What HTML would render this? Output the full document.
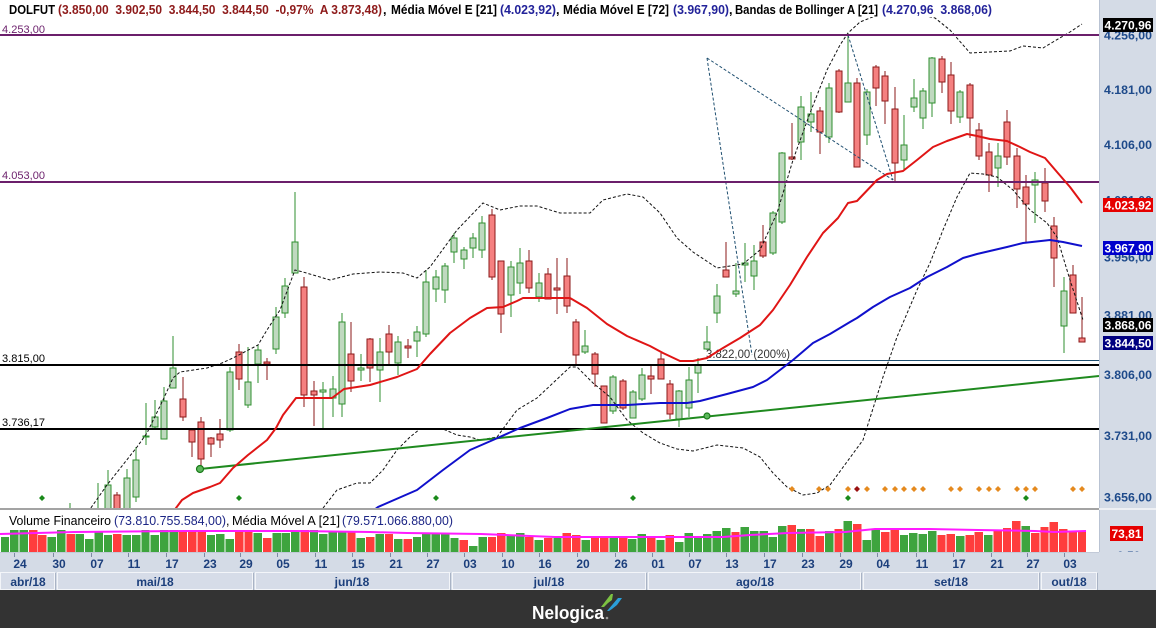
<!DOCTYPE html>
<html><head><meta charset="utf-8"><style>
html,body{margin:0;padding:0;background:#fff;}
svg{display:block;}
text{font-family:"Liberation Sans",Arial,sans-serif;white-space:pre;}
.ax{font-weight:bold;font-size:12px;fill:#1e4a8a;}
.dt{font-weight:bold;font-size:12px;fill:#1c3f7c;}
.hd{font-weight:bold;font-size:12.5px;}
.tg{font-weight:bold;font-size:12px;fill:#fff;}
</style></head><body>
<svg width="1156" height="628" viewBox="0 0 1156 628" xmlns="http://www.w3.org/2000/svg">
<defs>
<clipPath id="mc"><rect x="0" y="17" width="1099" height="491"/></clipPath>
<clipPath id="vc"><rect x="0" y="510" width="1099" height="42"/></clipPath>
<clipPath id="rc"><rect x="1099" y="510" width="57" height="42"/></clipPath>
</defs>
<rect x="0" y="0" width="1156" height="628" fill="#fff"/>
<!-- right axis panel -->
<rect x="1099" y="0" width="57" height="590" fill="#d4dbe6"/>
<line x1="1099.5" y1="0" x2="1099.5" y2="552" stroke="#b9c3d3" stroke-width="1"/>

<g clip-path="url(#mc)">
<!-- candles -->
<g shape-rendering="crispEdges">
<path fill="none" stroke="#2f8f2f" stroke-width="1" d="M70 503V512M98 483V512M108 470V512M127 469V512M136 447V502M146 403V445M155 400V428M164 387V439M173 336V388M230 367V432M248 347V408M258 345V383M276 307V354M285 278V318M295 192V273M323 382V428M333 376V417M342 313V417M361 354V381M380 338V402M398 336V375M417 326V357M426 270V337M436 270V302M445 263V303M454 233V263M464 247V269M473 233V258M482 216V258M511 261V317M520 248V294M539 273V302M585 330V354M613 375V414M633 390V418M642 368V401M679 390V427M689 367V417M698 358V393M707 326V350M717 284V323M736 263V297M745 243V282M754 245V290M773 211V255M782 152V224M801 96V160M811 92V132M829 83V143M848 33V102M867 89V145M904 115V170M914 79V112M923 88V129M932 57V117M960 90V123M998 143V187M1035 172V223M1064 277V353"/>
<g fill="#bfd9bf" stroke="#2f8f2f" stroke-width="1">
<rect x="105" y="485" width="6" height="30"/><rect x="124" y="478" width="6" height="37"/><rect x="133" y="460" width="6" height="37"/><rect x="143" y="436" width="6" height="1"/><rect x="152" y="417" width="6" height="10"/><rect x="161" y="401" width="6" height="38"/><rect x="170" y="368" width="6" height="20"/><rect x="227" y="372" width="6" height="58"/><rect x="245" y="382" width="6" height="23"/><rect x="255" y="350" width="6" height="14"/><rect x="273" y="317" width="6" height="32"/><rect x="282" y="286" width="6" height="27"/><rect x="292" y="242" width="6" height="31"/><rect x="320" y="390" width="6" height="2"/><rect x="330" y="389" width="6" height="9"/><rect x="339" y="322" width="6" height="82"/><rect x="358" y="368" width="6" height="2"/><rect x="377" y="352" width="6" height="18"/><rect x="395" y="342" width="6" height="21"/><rect x="414" y="332" width="6" height="9"/><rect x="423" y="282" width="6" height="52"/><rect x="433" y="277" width="6" height="12"/><rect x="442" y="266" width="6" height="24"/><rect x="451" y="238" width="6" height="14"/><rect x="461" y="250" width="6" height="9"/><rect x="470" y="238" width="6" height="10"/><rect x="479" y="223" width="6" height="27"/><rect x="508" y="267" width="6" height="28"/><rect x="517" y="263" width="6" height="20"/><rect x="536" y="283" width="6" height="14"/><rect x="582" y="346" width="6" height="6"/><rect x="610" y="377" width="6" height="34"/><rect x="630" y="392" width="6" height="26"/><rect x="639" y="375" width="6" height="24"/><rect x="676" y="391" width="6" height="28"/><rect x="686" y="380" width="6" height="28"/><rect x="695" y="365" width="6" height="8"/><rect x="704" y="342" width="6" height="7"/><rect x="714" y="296" width="6" height="17"/><rect x="733" y="291" width="6" height="3"/><rect x="742" y="263" width="6" height="2"/><rect x="751" y="261" width="6" height="15"/><rect x="770" y="213" width="6" height="40"/><rect x="779" y="153" width="6" height="69"/><rect x="798" y="107" width="6" height="35"/><rect x="808" y="114" width="6" height="8"/><rect x="826" y="88" width="6" height="49"/><rect x="845" y="83" width="6" height="19"/><rect x="864" y="92" width="6" height="43"/><rect x="901" y="145" width="6" height="15"/><rect x="911" y="98" width="6" height="9"/><rect x="920" y="91" width="6" height="27"/><rect x="929" y="58" width="6" height="45"/><rect x="957" y="92" width="6" height="25"/><rect x="995" y="156" width="6" height="12"/><rect x="1032" y="180" width="6" height="5"/><rect x="1061" y="291" width="6" height="35"/>
</g>
<path fill="none" stroke="#8b1a1a" stroke-width="1" d="M117 492V512M183 377V421M192 430V457M201 417V469M211 437V457M220 419V448M239 344V390M267 358V380M304 277V407M314 381V426M351 322V392M370 338V382M389 325V364M408 339V358M492 209V280M501 261V333M529 250V293M548 268V299M557 258V314M567 258V313M576 319V364M595 352V387M604 386V423M623 379V410M651 365V394M661 353V379M670 380V419M726 242V277M763 225V258M792 123V160M820 107V154M839 69V113M857 78V167M876 65V106M885 71V124M895 87V181M942 56V93M951 62V124M970 83V138M979 123V160M989 143V192M1007 110V165M1017 148V208M1026 175V242M1045 168V212M1054 217V287M1073 265V313M1082 297V342"/>
<g fill="#f58080" stroke="#8b1a1a" stroke-width="1">
<rect x="114" y="495" width="6" height="20"/><rect x="180" y="399" width="6" height="18"/><rect x="189" y="430" width="6" height="12"/><rect x="198" y="422" width="6" height="37"/><rect x="208" y="438" width="6" height="6"/><rect x="217" y="434" width="6" height="6"/><rect x="236" y="352" width="6" height="27"/><rect x="264" y="362" width="6" height="2"/><rect x="301" y="287" width="6" height="108"/><rect x="311" y="391" width="6" height="4"/><rect x="348" y="354" width="6" height="27"/><rect x="367" y="339" width="6" height="29"/><rect x="386" y="334" width="6" height="18"/><rect x="405" y="346" width="6" height="2"/><rect x="489" y="215" width="6" height="62"/><rect x="498" y="261" width="6" height="53"/><rect x="526" y="261" width="6" height="27"/><rect x="545" y="274" width="6" height="25"/><rect x="554" y="288" width="6" height="2"/><rect x="564" y="276" width="6" height="30"/><rect x="573" y="322" width="6" height="33"/><rect x="592" y="354" width="6" height="20"/><rect x="601" y="386" width="6" height="37"/><rect x="620" y="381" width="6" height="27"/><rect x="648" y="376" width="6" height="3"/><rect x="658" y="359" width="6" height="20"/><rect x="667" y="384" width="6" height="30"/><rect x="723" y="270" width="6" height="7"/><rect x="760" y="242" width="6" height="14"/><rect x="789" y="157" width="6" height="2"/><rect x="817" y="111" width="6" height="21"/><rect x="836" y="71" width="6" height="41"/><rect x="854" y="83" width="6" height="84"/><rect x="873" y="67" width="6" height="21"/><rect x="882" y="76" width="6" height="25"/><rect x="892" y="109" width="6" height="54"/><rect x="939" y="59" width="6" height="23"/><rect x="948" y="75" width="6" height="36"/><rect x="967" y="85" width="6" height="33"/><rect x="976" y="130" width="6" height="26"/><rect x="986" y="152" width="6" height="23"/><rect x="1004" y="122" width="6" height="35"/><rect x="1014" y="156" width="6" height="33"/><rect x="1023" y="187" width="6" height="17"/><rect x="1042" y="183" width="6" height="18"/><rect x="1051" y="226" width="6" height="32"/><rect x="1070" y="275" width="6" height="38"/><rect x="1079" y="338" width="6" height="4"/>
</g>
</g>

<!-- Bollinger bands -->
<g fill="none" stroke="#111" stroke-width="1" stroke-dasharray="3,2">
<polyline points="88,512 107,485 137,447 147,433 163,400 173,378 180,372 207,368 222,363 233,358 258,345 267,330 280,310 295,270 303,272 330,280 353,274 380,272 403,273 417,278 430,267 457,230 483,203 500,210 520,206 537,206 560,213 590,213 603,200 627,194 643,197 660,213 677,238 693,252 717,268 743,264 760,250 777,213 793,160 810,113 827,70 840,45 848,33 860,22 880,14 910,12 935,18 950,30 970,53 990,52 1010,51 1023,46 1043,48 1053,42 1070,32 1082,24"/>
<polyline points="320,512 337,490 357,483 370,483 383,470 397,450 410,437 420,429 443,429 457,435 470,437 480,440 497,437 517,410 537,398 553,383 570,367 577,367 593,383 610,397 627,420 643,433 660,443 677,449 693,451 717,445 743,448 760,457 773,473 787,487 803,495 817,493 830,485 863,440 883,377 897,337 917,290 930,263 943,230 957,197 970,173 983,174 997,177 1013,190 1030,210 1047,223 1057,237 1070,280 1083,320"/>
</g>

<!-- drawing tool (dashed projection) -->
<g fill="none" stroke="#1f4f70" stroke-width="1" stroke-dasharray="3,2">
<line x1="707" y1="58" x2="752" y2="355"/>
<line x1="707" y1="58" x2="893" y2="180"/>
<line x1="848" y1="35" x2="893" y2="180"/>
</g>
<line x1="707" y1="360.5" x2="1099" y2="360.5" stroke="#1f4f70" stroke-width="1"/>
<text x="706" y="358" font-size="11.5" fill="#333" textLength="84" lengthAdjust="spacingAndGlyphs">3.822,00 (200%)</text>

<!-- horizontal level lines -->
<rect x="0" y="34" width="1099" height="2" fill="#6b1f6b"/>
<rect x="0" y="181" width="1099" height="2" fill="#6b1f6b"/>
<rect x="0" y="364" width="1099" height="2" fill="#000"/>
<rect x="0" y="428" width="1099" height="2" fill="#000"/>
<text x="2" y="33" font-size="11" fill="#6b1f6b" textLength="43" lengthAdjust="spacingAndGlyphs">4.253,00</text>
<text x="2" y="179" font-size="11" fill="#6b1f6b" textLength="43" lengthAdjust="spacingAndGlyphs">4.053,00</text>
<text x="2" y="362" font-size="11" fill="#000" textLength="43" lengthAdjust="spacingAndGlyphs">3.815,00</text>
<text x="2" y="426" font-size="11" fill="#000" textLength="43" lengthAdjust="spacingAndGlyphs">3.736,17</text>

<!-- trend line -->
<line x1="200" y1="469" x2="1099" y2="376" stroke="#1f8a1f" stroke-width="2"/>
<circle cx="200" cy="469" r="3.5" fill="#5cb85c" stroke="#1a7a1a" stroke-width="1.2"/>
<circle cx="707" cy="416" r="3" fill="#5cb85c" stroke="#1a7a1a" stroke-width="1.2"/>

<!-- EMAs -->
<polyline fill="none" stroke="#e01515" stroke-width="2" stroke-linejoin="round" points="173,512 182,500 193,493 210,487 220,483 233,468 248,455 267,440 276,428 283,415 296,398 310,398 332,398 344,389 370,385 397,377 417,369 430,354 450,333 470,318 487,308 503,307 517,301 523,298 553,298 570,298 587,308 607,324 627,336 650,346 663,353 680,361 693,361 707,358 723,348 740,338 760,325 773,310 790,285 807,257 823,233 838,218 848,203 857,201 877,180 887,174 903,171 917,160 933,147 947,141 967,134 977,136 990,139 1007,141 1020,147 1030,152 1045,158 1057,172 1070,187 1082,203"/>
<polyline fill="none" stroke="#1010cc" stroke-width="2" stroke-linejoin="round" points="370,513 378,507 417,490 443,470 470,450 493,440 520,428 547,418 570,409 593,405 627,405 660,403 687,403 700,401 727,394 753,387 767,380 793,360 813,343 830,334 850,322 857,318 873,307 890,297 910,288 927,277 947,267 963,258 977,254 1007,247 1023,243 1050,240 1063,242 1082,246"/>

<!-- signal dots -->
<g fill="#e58a1f">
<path d="M792 486l3 3-3 3-3-3z M819 486l3 3-3 3-3-3z M828 486l3 3-3 3-3-3z M848 486l3 3-3 3-3-3z M867 486l3 3-3 3-3-3z M885 486l3 3-3 3-3-3z M895 486l3 3-3 3-3-3z M904 486l3 3-3 3-3-3z M914 486l3 3-3 3-3-3z M923 486l3 3-3 3-3-3z M951 486l3 3-3 3-3-3z M960 486l3 3-3 3-3-3z M979 486l3 3-3 3-3-3z M989 486l3 3-3 3-3-3z M998 486l3 3-3 3-3-3z M1017 486l3 3-3 3-3-3z M1026 486l3 3-3 3-3-3z M1035 486l3 3-3 3-3-3z M1073 486l3 3-3 3-3-3z M1082 486l3 3-3 3-3-3z"/>
</g>
<path fill="#9a1010" d="M857 486l3 3-3 3-3-3z"/>
<path fill="#1a8a1a" d="M42 495l3 3-3 3-3-3z M239 495l3 3-3 3-3-3z M436 495l3 3-3 3-3-3z M633 495l3 3-3 3-3-3z M848 495l3 3-3 3-3-3z M1026 495l3 3-3 3-3-3z"/>
</g>

<!-- header -->
<text class="hd" x="9" y="14" fill="#000" textLength="46" lengthAdjust="spacingAndGlyphs">DOLFUT</text>
<text class="hd" x="58" y="14" fill="#8e1b1b" textLength="324" lengthAdjust="spacingAndGlyphs">(3.850,00  3.902,50  3.844,50  3.844,50  -0,97%  A 3.873,48)</text>
<text class="hd" x="383" y="14" fill="#000">,</text>
<text class="hd" x="391" y="14" fill="#000" textLength="106" lengthAdjust="spacingAndGlyphs">Média Móvel E [21]</text>
<text class="hd" x="500" y="14" fill="#23239a" textLength="56" lengthAdjust="spacingAndGlyphs">(4.023,92)</text>
<text class="hd" x="556" y="14" fill="#000">,</text>
<text class="hd" x="563" y="14" fill="#000" textLength="106" lengthAdjust="spacingAndGlyphs">Média Móvel E [72]</text>
<text class="hd" x="673" y="14" fill="#23239a" textLength="56" lengthAdjust="spacingAndGlyphs">(3.967,90)</text>
<text class="hd" x="729" y="14" fill="#000">,</text>
<text class="hd" x="735" y="14" fill="#000" textLength="143" lengthAdjust="spacingAndGlyphs">Bandas de Bollinger A [21]</text>
<text class="hd" x="882" y="14" fill="#23239a" textLength="110" lengthAdjust="spacingAndGlyphs">(4.270,96  3.868,06)</text>

<!-- right axis labels -->
<g class="ax">
<text x="1104" y="39.5" textLength="48" lengthAdjust="spacingAndGlyphs">4.256,00</text>
<text x="1104" y="94" textLength="48" lengthAdjust="spacingAndGlyphs">4.181,00</text>
<text x="1104" y="149" textLength="48" lengthAdjust="spacingAndGlyphs">4.106,00</text>
<text x="1104" y="204.5" textLength="48" lengthAdjust="spacingAndGlyphs">4.031,00</text>
<text x="1104" y="261.5" textLength="48" lengthAdjust="spacingAndGlyphs">3.956,00</text>
<text x="1104" y="319.5" textLength="48" lengthAdjust="spacingAndGlyphs">3.881,00</text>
<text x="1104" y="379" textLength="48" lengthAdjust="spacingAndGlyphs">3.806,00</text>
<text x="1104" y="440" textLength="48" lengthAdjust="spacingAndGlyphs">3.731,00</text>
<text x="1104" y="501.5" textLength="48" lengthAdjust="spacingAndGlyphs">3.656,00</text>
</g>
<!-- value tags -->
<rect x="1103" y="18" width="50" height="14" fill="#000"/>
<text class="tg" x="1104.5" y="29.5" textLength="47" lengthAdjust="spacingAndGlyphs">4.270,96</text>
<rect x="1103" y="198" width="50" height="14" fill="#e60000"/>
<text class="tg" x="1104.5" y="209.5" textLength="47" lengthAdjust="spacingAndGlyphs">4.023,92</text>
<rect x="1103" y="241" width="50" height="14" fill="#0000cc"/>
<text class="tg" x="1104.5" y="252.5" textLength="47" lengthAdjust="spacingAndGlyphs">3.967,90</text>
<rect x="1103" y="318" width="50" height="14" fill="#000"/>
<text class="tg" x="1104.5" y="329.5" textLength="47" lengthAdjust="spacingAndGlyphs">3.868,06</text>
<rect x="1103" y="336" width="50" height="14" fill="#000080"/>
<text class="tg" x="1104.5" y="347.5" textLength="47" lengthAdjust="spacingAndGlyphs">3.844,50</text>

<!-- panel separator -->
<rect x="0" y="508" width="1099" height="2" fill="#a3a3a3"/>
<rect x="1099" y="508" width="57" height="2" fill="#eef0f4"/>

<!-- volume panel -->
<g clip-path="url(#vc)" shape-rendering="crispEdges">
<g fill="#3ea43e">
<rect x="0.8" y="537" width="8.4" height="15"/><rect x="10.1" y="530" width="8.4" height="22"/><rect x="19.5" y="530" width="8.4" height="22"/><rect x="47.6" y="537" width="8.4" height="15"/><rect x="57" y="530" width="8.4" height="22"/><rect x="75.7" y="534" width="8.4" height="18"/><rect x="85.1" y="539" width="8.4" height="13"/><rect x="94.4" y="532" width="8.4" height="20"/><rect x="103.8" y="535" width="8.4" height="17"/><rect x="122.5" y="535" width="8.4" height="17"/><rect x="131.9" y="535" width="8.4" height="17"/><rect x="141.3" y="530" width="8.4" height="22"/><rect x="150.6" y="535" width="8.4" height="17"/><rect x="160" y="530" width="8.4" height="22"/><rect x="169.4" y="530" width="8.4" height="22"/><rect x="206.8" y="535" width="8.4" height="17"/><rect x="216.2" y="534" width="8.4" height="18"/><rect x="225.5" y="539" width="8.4" height="13"/><rect x="253.6" y="533" width="8.4" height="19"/><rect x="272.4" y="533" width="8.4" height="19"/><rect x="281.7" y="533" width="8.4" height="19"/><rect x="291.1" y="531" width="8.4" height="21"/><rect x="309.8" y="530" width="8.4" height="22"/><rect x="319.2" y="534" width="8.4" height="18"/><rect x="328.6" y="531" width="8.4" height="21"/><rect x="337.9" y="531" width="8.4" height="21"/><rect x="356.7" y="538" width="8.4" height="14"/><rect x="375.4" y="534" width="8.4" height="18"/><rect x="394.1" y="539" width="8.4" height="13"/><rect x="412.8" y="537" width="8.4" height="15"/><rect x="422.2" y="534" width="8.4" height="18"/><rect x="431.6" y="533" width="8.4" height="19"/><rect x="440.9" y="534" width="8.4" height="18"/><rect x="450.3" y="538" width="8.4" height="14"/><rect x="469" y="546" width="8.4" height="6"/><rect x="478.4" y="537" width="8.4" height="15"/><rect x="506.5" y="536" width="8.4" height="16"/><rect x="515.9" y="533" width="8.4" height="19"/><rect x="534.6" y="540" width="8.4" height="12"/><rect x="553.3" y="538" width="8.4" height="14"/><rect x="581.4" y="540" width="8.4" height="12"/><rect x="609.5" y="536" width="8.4" height="16"/><rect x="628.2" y="539" width="8.4" height="13"/><rect x="637.6" y="534" width="8.4" height="18"/><rect x="656.3" y="540" width="8.4" height="12"/><rect x="675.1" y="542" width="8.4" height="10"/><rect x="684.4" y="533" width="8.4" height="19"/><rect x="693.8" y="536" width="8.4" height="16"/><rect x="703.2" y="534" width="8.4" height="18"/><rect x="712.5" y="531" width="8.4" height="21"/><rect x="721.9" y="528" width="8.4" height="24"/><rect x="740.6" y="527" width="8.4" height="25"/><rect x="750" y="531" width="8.4" height="21"/><rect x="759.4" y="531" width="8.4" height="21"/><rect x="768.7" y="537" width="8.4" height="15"/><rect x="778.1" y="526" width="8.4" height="26"/><rect x="796.8" y="529" width="8.4" height="23"/><rect x="824.9" y="531" width="8.4" height="21"/><rect x="843.6" y="521" width="8.4" height="31"/><rect x="862.4" y="540" width="8.4" height="12"/><rect x="871.7" y="529" width="8.4" height="23"/><rect x="899.8" y="535" width="8.4" height="17"/><rect x="909.2" y="533" width="8.4" height="19"/><rect x="918.6" y="534" width="8.4" height="18"/><rect x="927.9" y="531" width="8.4" height="21"/><rect x="956" y="536" width="8.4" height="16"/><rect x="984.1" y="535" width="8.4" height="17"/><rect x="1021.6" y="526" width="8.4" height="26"/>
</g>
<g fill="#ff3d3d">
<rect x="28.9" y="530" width="8.4" height="22"/><rect x="38.2" y="535" width="8.4" height="17"/><rect x="66.4" y="534" width="8.4" height="18"/><rect x="113.2" y="534" width="8.4" height="18"/><rect x="178.7" y="532" width="8.4" height="20"/><rect x="188.1" y="532" width="8.4" height="20"/><rect x="197.5" y="530" width="8.4" height="22"/><rect x="234.9" y="530" width="8.4" height="22"/><rect x="244.3" y="530" width="8.4" height="22"/><rect x="263" y="538" width="8.4" height="14"/><rect x="300.5" y="530" width="8.4" height="22"/><rect x="347.3" y="531" width="8.4" height="21"/><rect x="366" y="537" width="8.4" height="15"/><rect x="384.8" y="534" width="8.4" height="18"/><rect x="403.5" y="539" width="8.4" height="13"/><rect x="459.7" y="540" width="8.4" height="12"/><rect x="487.8" y="537" width="8.4" height="15"/><rect x="497.1" y="533" width="8.4" height="19"/><rect x="525.2" y="537" width="8.4" height="15"/><rect x="544" y="538" width="8.4" height="14"/><rect x="562.7" y="533" width="8.4" height="19"/><rect x="572.1" y="535" width="8.4" height="17"/><rect x="590.8" y="537" width="8.4" height="15"/><rect x="600.1" y="537" width="8.4" height="15"/><rect x="618.9" y="537" width="8.4" height="15"/><rect x="647" y="537" width="8.4" height="15"/><rect x="665.7" y="535" width="8.4" height="17"/><rect x="731.3" y="532" width="8.4" height="20"/><rect x="787.4" y="525" width="8.4" height="27"/><rect x="806.2" y="529" width="8.4" height="23"/><rect x="815.5" y="536" width="8.4" height="16"/><rect x="834.3" y="529" width="8.4" height="23"/><rect x="853" y="524" width="8.4" height="28"/><rect x="881.1" y="532" width="8.4" height="20"/><rect x="890.5" y="530" width="8.4" height="22"/><rect x="937.3" y="535" width="8.4" height="17"/><rect x="946.7" y="534" width="8.4" height="18"/><rect x="965.4" y="535" width="8.4" height="17"/><rect x="974.7" y="532" width="8.4" height="20"/><rect x="993.5" y="530" width="8.4" height="22"/><rect x="1002.8" y="528" width="8.4" height="24"/><rect x="1012.2" y="521" width="8.4" height="31"/><rect x="1030.9" y="533" width="8.4" height="19"/><rect x="1040.3" y="527" width="8.4" height="25"/><rect x="1049.7" y="522" width="8.4" height="30"/><rect x="1059" y="529" width="8.4" height="23"/><rect x="1068.4" y="532" width="8.4" height="20"/><rect x="1077.8" y="532" width="8.4" height="20"/>
</g>
<polyline fill="none" stroke="#ff1aff" stroke-width="2" shape-rendering="auto" points="0,534 74,532 185,531 296,531 370,532 407,533 481,534 555,537 655,537 723,537 750,535 788,533 845,532 875,529 929,529 978,530 1035,531 1054,532 1086,531"/>
</g>
<text x="9" y="525" font-size="12.5" fill="#000" textLength="102" lengthAdjust="spacingAndGlyphs">Volume Financeiro</text>
<text x="114" y="525" font-size="12.5" fill="#1c2585" textLength="112" lengthAdjust="spacingAndGlyphs">(73.810.755.584,00)</text>
<text x="226" y="525" font-size="12.5" fill="#000">,</text>
<text x="232" y="525" font-size="12.5" fill="#000" textLength="108" lengthAdjust="spacingAndGlyphs">Média Móvel A [21]</text>
<text x="342" y="525" font-size="12.5" fill="#1c2585" textLength="111" lengthAdjust="spacingAndGlyphs">(79.571.066.880,00)</text>
<rect x="1110" y="526" width="33" height="15" fill="#e60000"/>
<text class="tg" x="1111.5" y="538" textLength="30" lengthAdjust="spacingAndGlyphs">73,81</text>
<g clip-path="url(#rc)"><text class="ax" x="1117" y="560">0,50</text></g>

<!-- date axis -->
<rect x="0" y="552" width="1099" height="38" fill="#d4dbe6"/>
<line x1="0" y1="552.5" x2="1099" y2="552.5" stroke="#c2cad8" stroke-width="1"/>
<g stroke="#7d8aa3" stroke-width="1">
<path d="M14.5 553v4M53.5 553v4M91.5 553v4M128.5 553v4M166.5 553v4M204.5 553v4M240.5 553v4M277.5 553v4M315.5 553v4M352.5 553v4M390.5 553v4M427.5 553v4M464.5 553v4M502.5 553v4M539.5 553v4M577.5 553v4M615.5 553v4M652.5 553v4M689.5 553v4M726.5 553v4M764.5 553v4M802.5 553v4M840.5 553v4M877.5 553v4M916.5 553v4M953.5 553v4M991.5 553v4M1027.5 553v4M1064.5 553v4"/>
</g>
<g class="dt" text-anchor="middle">
<text x="20" y="568">24</text><text x="59" y="568">30</text><text x="97" y="568">07</text><text x="134" y="568">11</text><text x="172" y="568">17</text><text x="210" y="568">23</text><text x="246" y="568">29</text><text x="283" y="568">05</text><text x="321" y="568">11</text><text x="358" y="568">15</text><text x="396" y="568">21</text><text x="433" y="568">27</text><text x="470" y="568">03</text><text x="508" y="568">10</text><text x="545" y="568">16</text><text x="583" y="568">20</text><text x="621" y="568">26</text><text x="658" y="568">01</text><text x="695" y="568">07</text><text x="732" y="568">13</text><text x="770" y="568">17</text><text x="808" y="568">23</text><text x="846" y="568">29</text><text x="883" y="568">04</text><text x="922" y="568">11</text><text x="959" y="568">17</text><text x="997" y="568">21</text><text x="1033" y="568">27</text><text x="1070" y="568">03</text>
</g>
<!-- month boxes -->
<g fill="#d6dce8" stroke="#f3f5f9" stroke-width="1">
<rect x="0.5" y="572.5" width="54" height="17"/>
<rect x="57.5" y="572.5" width="195" height="17"/>
<rect x="255.5" y="572.5" width="194" height="17"/>
<rect x="452.5" y="572.5" width="193" height="17"/>
<rect x="648.5" y="572.5" width="212" height="17"/>
<rect x="863.5" y="572.5" width="175" height="17"/>
<rect x="1041.5" y="572.5" width="55" height="17"/>
</g>
<g stroke="#a9b3c5" stroke-width="1">
<path d="M55.5 573v17M253.5 573v17M450.5 573v17M646.5 573v17M861.5 573v17M1039.5 573v17M1097.5 573v17"/>
</g>
<g class="dt" text-anchor="middle">
<text x="28" y="586">abr/18</text><text x="155" y="586">mai/18</text><text x="352" y="586">jun/18</text><text x="549" y="586">jul/18</text><text x="755" y="586">ago/18</text><text x="951" y="586">set/18</text><text x="1069" y="586">out/18</text>
</g>

<!-- footer -->
<rect x="0" y="590" width="1156" height="38" fill="#333333"/>
<text x="532" y="619" font-size="18.5" font-weight="bold" fill="#fff" textLength="72" lengthAdjust="spacingAndGlyphs">Nelogica</text>
<circle cx="607" cy="618" r="1.3" fill="#999"/>
<polygon points="601,607 611,594 613,594 612,600 608,603 604,607" fill="#7cc242"/>
<polygon points="607,611 618,598 622,598 617,605 612,609 609,611" fill="#2b9fd9"/>
</svg>
</body></html>
